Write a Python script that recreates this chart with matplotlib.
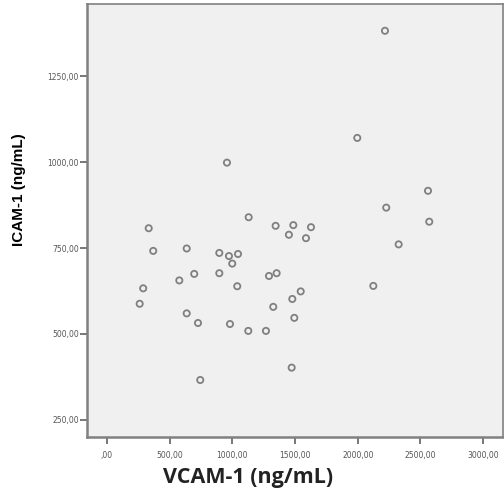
import matplotlib
matplotlib.use("Agg")
import matplotlib.pyplot as plt
from matplotlib.ticker import FuncFormatter

vcam = [2217, 1996, 957, 2560, 2227, 1130, 333, 1345, 1486, 1627,
        2570, 1451, 1587, 369, 636, 2326, 896, 973, 1045, 999,
        577, 696, 896, 1292, 1353, 289, 1039, 2124, 1545, 1478,
        261, 1326, 636, 726, 981, 1494, 1127, 1268, 1473, 744]
icam = [1383, 1071, 999, 917, 868, 840, 808, 815, 817, 811,
        827, 789, 779, 742, 749, 761, 736, 727, 733, 705,
        656, 675, 677, 669, 677, 633, 639, 640, 624, 602,
        588, 579, 560, 532, 529, 547, 509, 509, 402, 366]
x_ticks = [0, 500, 1000, 1500, 2000, 2500, 3000]
y_ticks = [250, 500, 750, 1000, 1250]

def fmt(v, pos):
    s = f"{v:.2f}".replace(".", ",")
    if s.startswith("0,"):
        s = s[1:]
    return s

fig = plt.figure(figsize=(5.04, 4.95), dpi=100)
ax = fig.add_axes([87/504, 1-437/495, 416/504, 433/495])
ax.set_facecolor("#f0f0f0")
ax.scatter(vcam, icam, s=20, facecolors="none", edgecolors="#808080", linewidths=1.3, zorder=3)
ax.set_xlim(-159, 3158)
ax.set_ylim(200, 1461)
ax.set_xticks(x_ticks)
ax.set_yticks(y_ticks)
ax.xaxis.set_major_formatter(FuncFormatter(fmt))
ax.yaxis.set_major_formatter(FuncFormatter(fmt))
ax.tick_params(axis="both", direction="out", length=5, width=1.2, color="#606060",
               labelsize=5.5, labelcolor="#555555", pad=1)
ax.tick_params(axis="x", pad=5)
for side, sp in ax.spines.items():
    sp.set_color("#808080")
    sp.set_linewidth(1.8 if side in ("left", "bottom") else 1.2)

fig.text(19/504, 1-190/495, "ICAM-1 (ng/mL)", rotation=90, ha="center", va="center",
         fontsize=11, fontweight="bold", family="Liberation Sans", color="black")
fig.text(248/504, 1-477/495, "VCAM-1 (ng/mL)", ha="center", va="center",
         fontsize=15.5, fontweight="bold", family="Open Sans", color="#222222")

fig.savefig("out.png", dpi=100)
